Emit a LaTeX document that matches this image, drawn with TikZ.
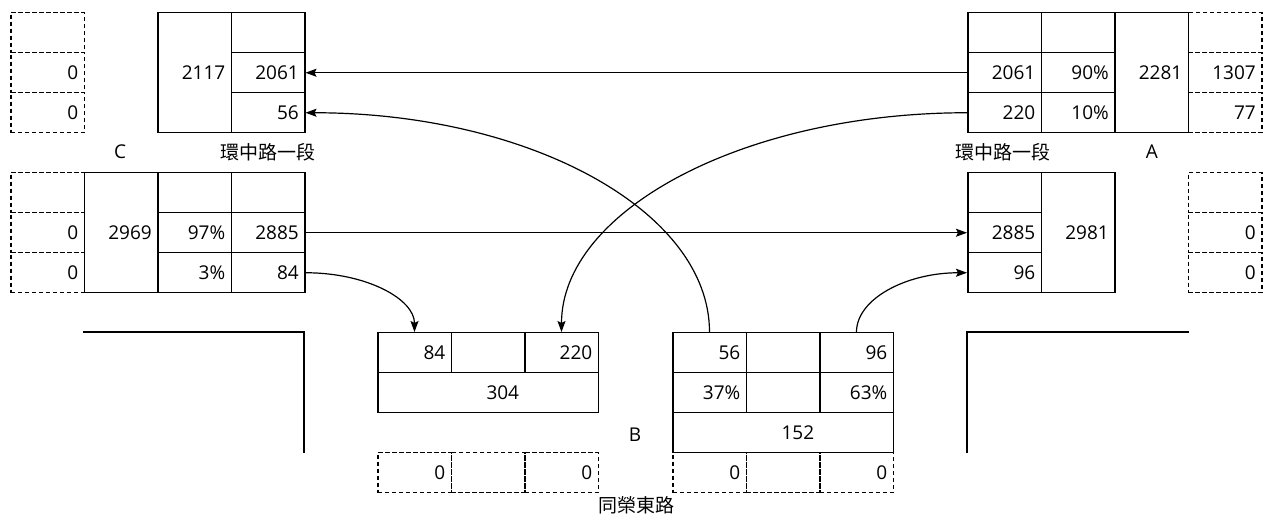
\documentclass[tikz,border=0pt]{standalone}
\usepackage{fontspec}
\setmainfont{Open Sans}
\newfontfamily\cjk{Noto Sans CJK TC}
\usetikzlibrary{arrows.meta}

\begin{document}
\begin{tikzpicture}
			[x=0.5pt,y=-0.5pt,
			%Styles
			cell/.style={draw,line width=0.75pt,anchor=north west,minimum width=36.75pt,minimum height=20pt,
				text width=30.75pt,align=right,inner xsep=3pt,inner ysep=0pt,font=\fontsize{9.5}{11}\selectfont},
			tall/.style={cell,minimum height=60pt},
			wide/.style={cell,minimum width=110.25pt,text width=104.25pt},
			ghost/.style={cell,dash pattern=on 2.2pt off 1.3pt},
			num/.style={anchor=east,inner xsep=3pt,inner ysep=0pt,font=\fontsize{9.5}{11}\selectfont},
			road/.style={line width=1.1pt},
			flow/.style={line width=0.6pt,->},
			street/.style={font=\cjk\fontsize{9.5}{11}\selectfont},
			junction/.style={font=\fontsize{9.5}{11}\selectfont},
			>={Stealth[length=5.5pt,width=4pt,inset=1pt]}
			]
			
			\useasboundingbox (0,0) rectangle (1271,523);
			
			%Intersection C, out to the west
			\node[ghost] (cw0) at (10,12) {};
			\node[ghost] (cw1) at (10,52) {0};
			\node[ghost] (cw2) at (10,92) {0};
			\node[tall] (ct) at (157,12) {2117};
			\node[cell] (cv0) at (230.5,12) {};
			\node[cell] (cv1) at (230.5,52) {2061};
			\node[cell] (cv2) at (230.5,92) {56};
			
			%Intersection A, in from the east
			\node[ghost] (aw0) at (1187.5,12) {};
			\node[ghost] (aw1) at (1187.5,52) {1307};
			\node[ghost] (aw2) at (1187.5,92) {77};
			\node[cell] (av0) at (967,12) {};
			\node[cell] (av1) at (967,52) {2061};
			\node[cell] (av2) at (967,92) {220};
			\node[cell] (ap0) at (1040.5,12) {};
			\node[cell] (ap1) at (1040.5,52) {90\%};
			\node[cell] (ap2) at (1040.5,92) {10\%};
			\node[tall] (at) at (1114,12) {2281};
			
			%Intersection C, in from the west
			\node[ghost] (dw0) at (10,172) {};
			\node[ghost] (dw1) at (10,212) {0};
			\node[ghost] (dw2) at (10,252) {0};
			\node[tall] (dt) at (83.5,172) {2969};
			\node[cell] (dp0) at (157,172) {};
			\node[cell] (dp1) at (157,212) {97\%};
			\node[cell] (dp2) at (157,252) {3\%};
			\node[cell] (dv0) at (230.5,172) {};
			\node[cell] (dv1) at (230.5,212) {2885};
			\node[cell] (dv2) at (230.5,252) {84};
			
			%Intersection A, out to the east
			\node[ghost] (ew0) at (1187.5,172) {};
			\node[ghost] (ew1) at (1187.5,212) {0};
			\node[ghost] (ew2) at (1187.5,252) {0};
			\node[cell] (ev0) at (967,172) {};
			\node[cell] (ev1) at (967,212) {2885};
			\node[cell] (ev2) at (967,252) {96};
			\node[tall] (et) at (1040.5,172) {2981};
			
			%Intersection B, out to the south
			\node[cell] (bv1) at (377,332) {84};
			\node[cell] (bv2) at (450.5,332) {};
			\node[cell] (bv3) at (524,332) {220};
			\node[wide] (bs) at (377,372) {};
			\node[num] at (bv2.east |- bs.center) {304};
			\node[ghost] (bw1) at (377,452) {0};
			\node[ghost] (bw2) at (450.5,452) {};
			\node[ghost] (bw3) at (524,452) {0};
			
			%Intersection B, in from the south
			\node[cell] (fv1) at (672,332) {56};
			\node[cell] (fv2) at (745.5,332) {};
			\node[cell] (fv3) at (819,332) {96};
			\node[cell] (fp1) at (672,372) {37\%};
			\node[cell] (fp2) at (745.5,372) {};
			\node[cell] (fp3) at (819,372) {63\%};
			\node[wide] (fs) at (672,412) {};
			\node[num] at (fv2.east |- fs.center) {152};
			\node[ghost] (fw1) at (672,452) {0};
			\node[ghost] (fw2) at (745.5,452) {};
			\node[ghost] (fw3) at (819,452) {0};
			
			%Road edges
			\draw[road] (83,332) -- (304,332) -- (304,453);
			\draw[road] (1189,332) -- (967,332) -- (967,453);
			
			%Labels
			\node[junction] (labC) at (120,152) {C};
			\node[junction] (labA) at (1152,152) {A};
			\node[junction] (labB) at (635,435) {B};
			\node[street] (roadW) at (268,152) {環中路一段};
			\node[street] (roadE) at (1003,152) {環中路一段};
			\node[street] (roadS) at (636,505) {同榮東路};
			
			%Flows
			\draw[flow] (av1.west) -- (cv1.east);
			\draw[flow] (av2.west) .. controls +(-224,0) and +(0,-121) .. (bv3.north);
			\draw[flow] (fv1.north) .. controls +(0,-121) and +(224,0) .. (cv2.east);
			\draw[flow] (dv1.east) -- (ev1.west);
			\draw[flow] (dv2.east) .. controls +(61,0) and +(0,-33) .. (bv1.north);
			\draw[flow] (fv3.north) .. controls +(0,-33) and +(-61,0) .. (ev2.west);
		\end{tikzpicture}
\end{document}
